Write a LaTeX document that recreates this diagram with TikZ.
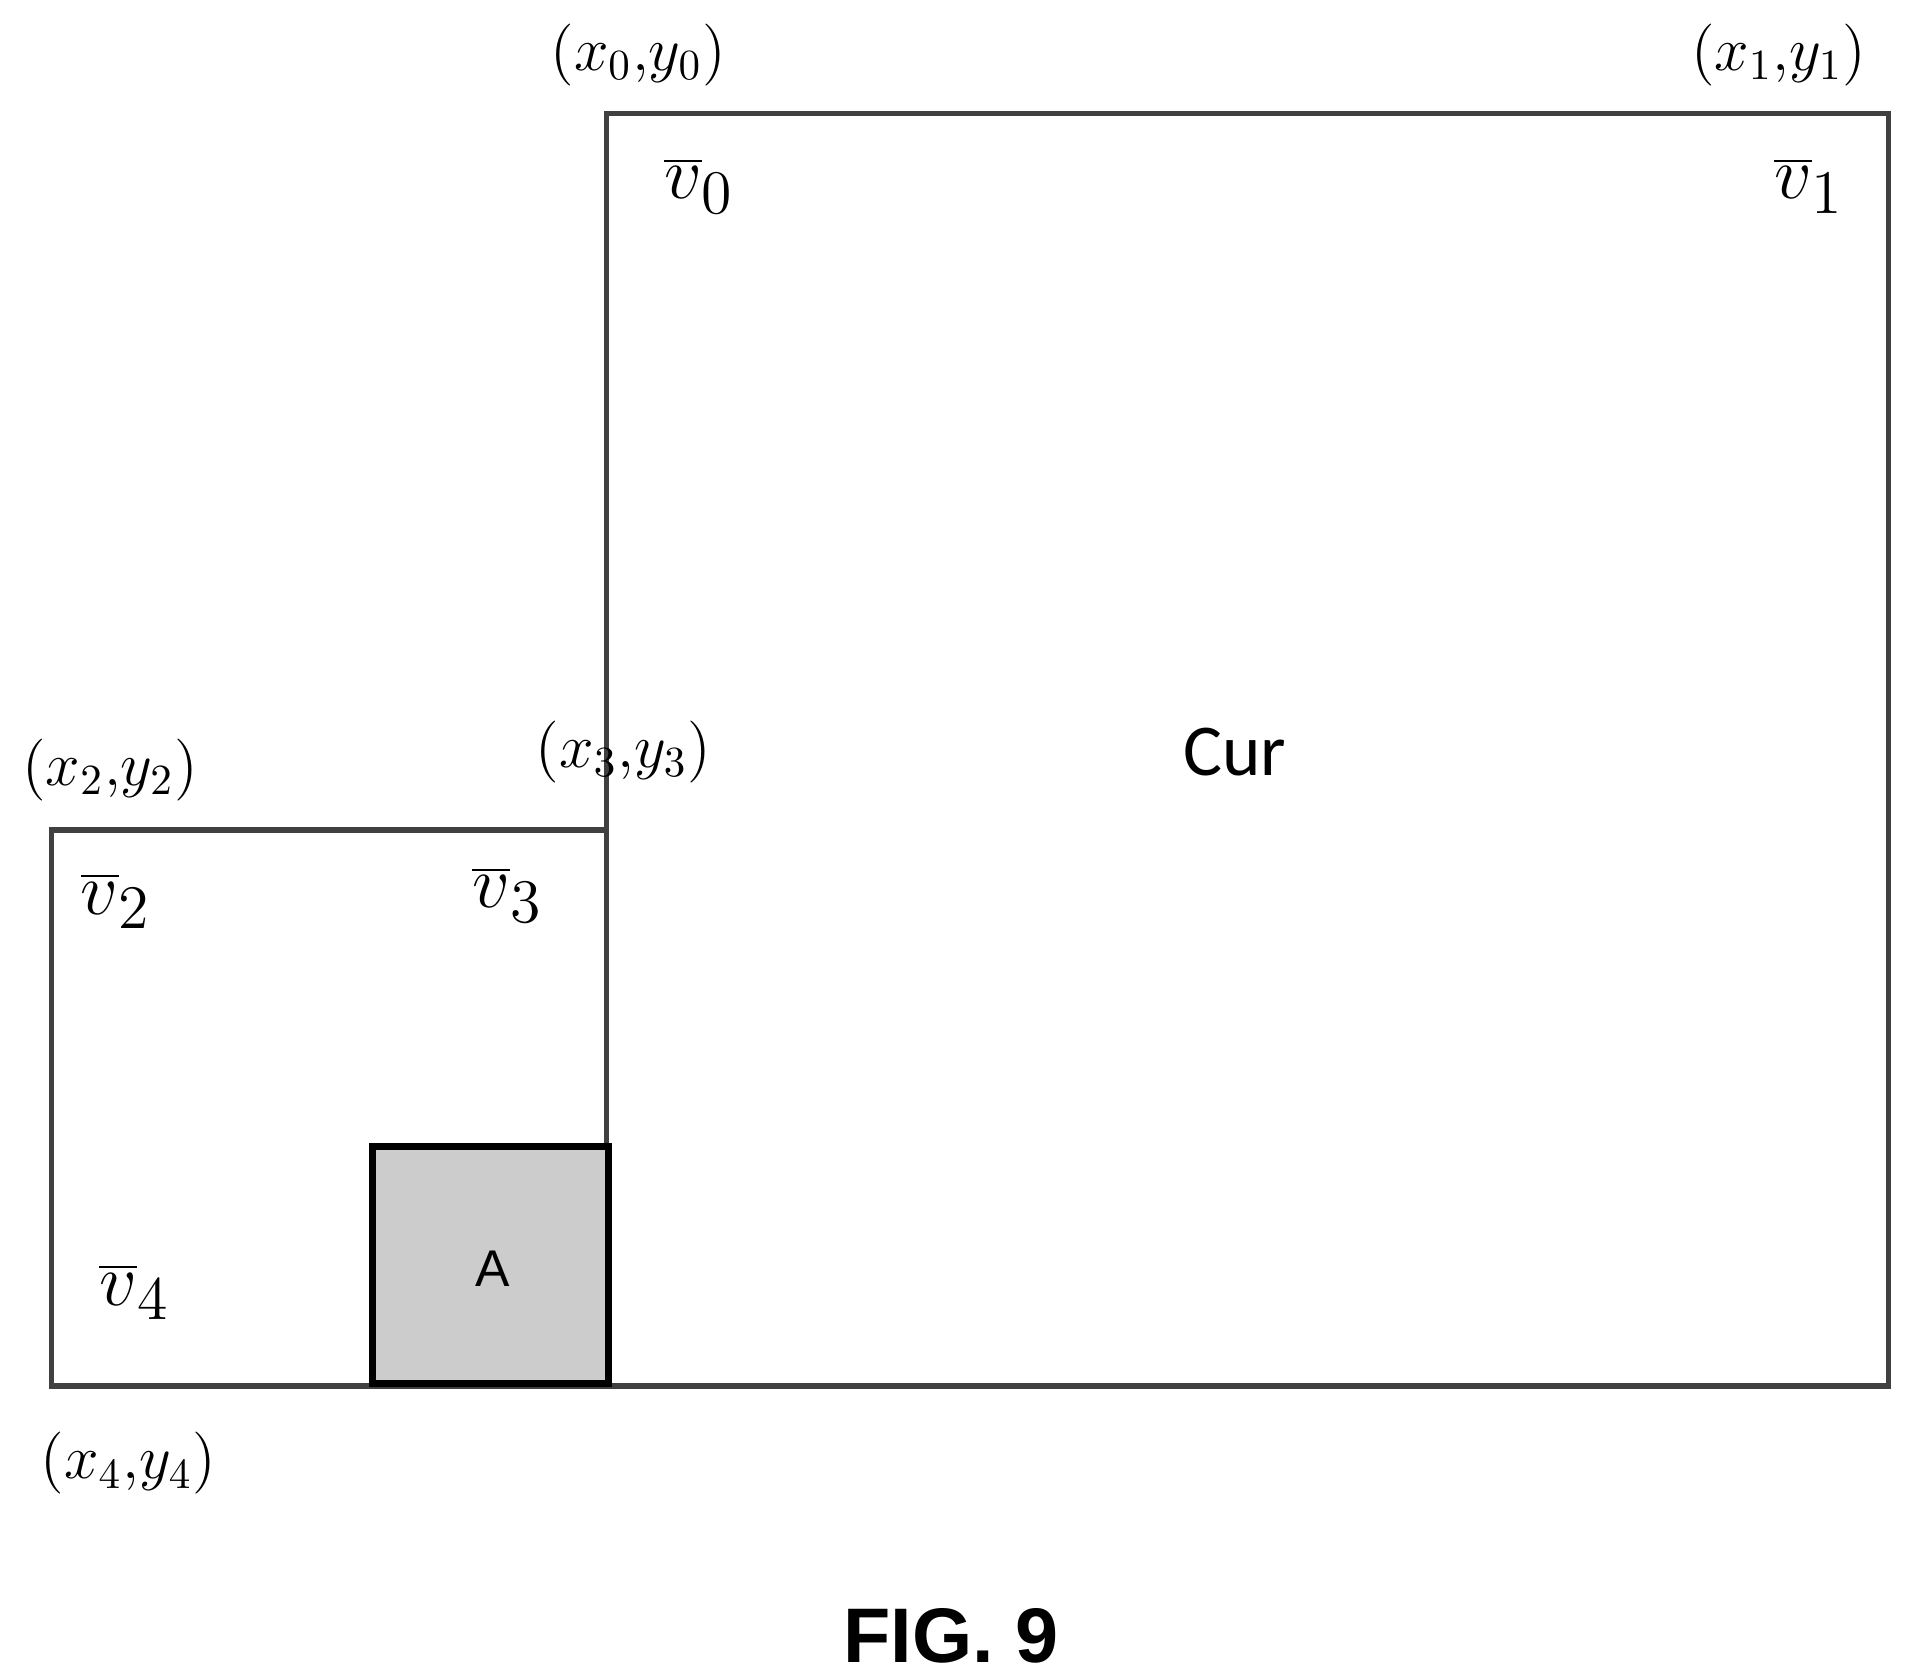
\documentclass[tikz,border=0pt]{standalone}
\usepackage{fontspec}
\newfontfamily\carfont{Carlito}
\newfontfamily\arsfont{Liberation Sans}
\begin{document}
\begin{tikzpicture}[x=0.01cm,y=-0.01cm,
  frame/.style={draw=black!75,line width=1.3pt},
  lab/.style={font=\fontsize{14}{16}\selectfont},
  vl/.style={font=\fontsize{19}{21}\selectfont}]
\useasboundingbox (0,0) rectangle (1560,1374);
\draw[frame] (496,93) rectangle (1545,1134);
\draw[frame] (42,679) rectangle (496,1134);
\draw[draw=black,line width=1.6pt,fill=black!20] (305,938) rectangle (498,1132);
\node[lab] (p0) at (522,45) {$(x_0{,}y_0)$};
\node[lab] (p1) at (1455,45) {$(x_1{,}y_1)$};
\node[lab] (p2) at (90,630) {$(x_2{,}y_2)$};
\node[lab] (p3) at (510,615) {$(x_3{,}y_3)$};
\node[lab] (p4) at (105,1197) {$(x_4{,}y_4)$};
\node[vl] (v0) at (572,152) {$\overline{v}_0$};
\node[vl] (v1) at (1480,152) {$\overline{v}_1$};
\node[vl] (v2) at (95,737) {$\overline{v}_2$};
\node[vl] (v3) at (415,732) {$\overline{v}_3$};
\node[vl] (v4) at (110,1057) {$\overline{v}_4$};
\node[font=\carfont\fontsize{17}{19}\selectfont] (cur) at (1010,615) {Cur};
\node[font=\arsfont\fontsize{12}{14}\selectfont] (a) at (403,1038) {A};
\node[font=\arsfont\bfseries\fontsize{18}{20}\selectfont] (fig) at (778,1338) {FIG. 9};
\end{tikzpicture}
\end{document}
